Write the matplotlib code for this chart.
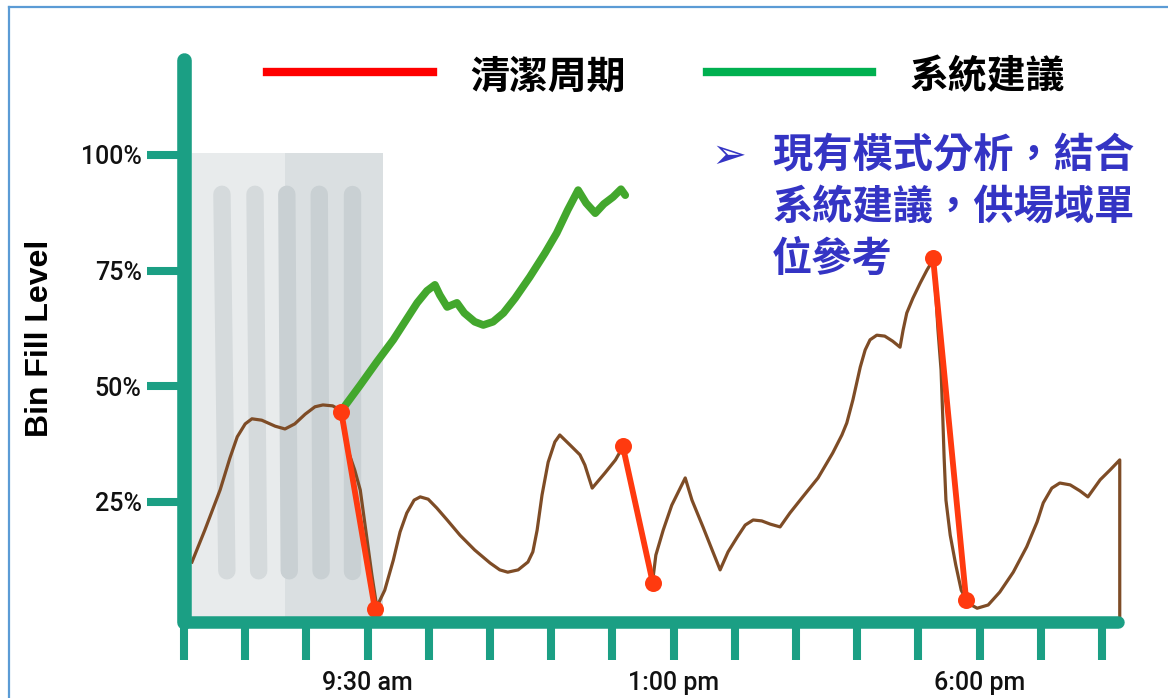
import matplotlib
matplotlib.use("Agg")
import matplotlib.pyplot as plt
from matplotlib.lines import Line2D

# ---------------- data ----------------
fill_x = [0.13, 0.34, 0.59, 0.75, 0.87, 1.00, 1.11, 1.27, 1.49, 1.65, 1.81, 1.98, 2.14, 2.27,
          2.43, 2.55, 2.61, 2.66, 2.79, 2.88, 2.97, 3.07, 3.15, 3.28, 3.42, 3.53, 3.64, 3.76,
          3.86, 3.99, 4.13, 4.30, 4.51, 4.75, 5.00, 5.16, 5.29, 5.46, 5.62, 5.70, 5.77, 5.85,
          5.95, 6.06, 6.14, 6.31, 6.47, 6.55, 6.67, 6.88, 7.05, 7.17, 7.66, 7.71, 7.83, 7.97,
          8.19, 8.30, 8.48, 8.63, 8.76, 8.89, 9.04, 9.17, 9.30, 9.44, 9.58, 9.74, 9.90, 10.11,
          10.36, 10.60, 10.75, 10.83, 10.93, 11.05, 11.13, 11.21, 11.32, 11.45, 11.58, 11.70,
          11.75, 11.81, 11.91, 12.03, 12.14, 12.24, 12.29, 12.32, 12.37, 12.40, 12.42, 12.45,
          12.52, 12.61, 12.70, 12.81, 12.96, 13.14, 13.33, 13.55, 13.77, 13.94, 14.04, 14.18,
          14.31, 14.48, 14.64, 14.77, 14.97, 15.13, 15.29, 15.29]
fill_y = [11.9, 18.8, 27.5, 34.4, 39.0, 41.8, 42.9, 42.6, 41.3, 40.7, 41.8, 43.9, 45.5, 45.9,
          45.7, 44.8, 40.5, 36.8, 31.8, 27.5, 18.8, 9.1, 2.2, 5.8, 12.3, 18.4, 22.5, 25.3,
          26.0, 25.5, 23.6, 21.0, 17.7, 14.5, 11.7, 10.2, 9.7, 10.2, 11.9, 14.1, 18.8, 26.4,
          33.5, 37.9, 39.4, 37.2, 35.1, 32.9, 27.9, 31.2, 34.0, 36.8, 8.0, 13.4, 18.8, 24.2,
          30.1, 25.3, 19.5, 14.5, 10.2, 14.1, 17.3, 19.9, 21.0, 20.8, 20.1, 19.5, 22.5, 26.0,
          30.1, 35.5, 39.4, 42.0, 47.0, 54.1, 57.8, 60.0, 61.0, 60.8, 59.7, 58.4,
          62.1, 65.8, 69.0, 72.3, 75.1, 77.3, 68.6, 62.1, 53.5, 42.6, 34.6, 25.3,
          17.7, 11.3, 5.8, 3.0, 1.9, 2.6, 5.4, 9.7, 15.2, 20.6, 24.7, 27.9,
          29.0, 28.6, 27.3, 26.0, 29.7, 31.8, 34.0, 0.0]

suggest_x = [2.58, 2.88, 3.15, 3.42, 3.61, 3.81, 3.97, 4.10, 4.18, 4.30, 4.37, 4.46, 4.58, 4.75,
             4.89, 5.05, 5.22, 5.41, 5.65, 5.90, 6.09, 6.27, 6.44, 6.57, 6.72, 6.86, 7.01, 7.14, 7.21]
suggest_y = [44.8, 50.2, 55.2, 60.0, 63.9, 68.0, 70.6, 71.9, 69.7, 67.1, 67.5, 68.0, 65.8, 63.9,
             63.2, 63.9, 65.8, 69.0, 73.6, 78.8, 83.1, 88.1, 92.4, 89.6, 87.4, 89.4, 90.9, 92.6, 91.3]

clean_start_x = [2.57, 7.17, 12.24]
clean_start_y = [44.4, 37.0, 77.7]
clean_end_x = [3.12, 7.66, 12.78]
clean_end_y = [1.7, 7.4, 3.7]

y_ticks = [25, 50, 75, 100]
y_tick_labels = ["25%", "50%", "75%", "100%"]
x_ticks = list(range(16))
x_tick_labels = {3: "9:30 am", 8: "1:00 pm", 13: "6:00 pm"}

legend_labels = ["清潔周期", "系統建議"]
note_lines = ["現有模式分析，結合", "系統建議，供場域單", "位參考"]
y_label = "Bin Fill Level"

# shaded bin illustration (data units)
bin_left, bin_split, bin_right, bin_top = 0.13, 1.65, 3.25, 100.4
stripe_top_x = [0.62, 1.16, 1.68, 2.21, 2.75]
stripe_bot_x = [0.70, 1.22, 1.72, 2.24, 2.75]
stripe_top_y, stripe_bot_y = 91.5, 10.0

# ---------------- style ----------------
TEAL = "#1b9f84"
BROWN = "#7e4c26"
RED = "#ff3a0f"
GREEN = "#43a72d"
BLUE = "#3434c4"

W, H = 1168, 698
fig = plt.figure(figsize=(W / 100, H / 100), dpi=100)
fig.patch.set_facecolor("white")

# axes geometry in pixels
L, B, R, T = 184, 622, 1140, 40
ax = fig.add_axes([L / W, (H - B) / H, (R - L) / W, (B - T) / H])
ax.set_xlim(0, (R - L) / 61.2)
ax.set_ylim((617 - B) / 4.62, (617 - T) / 4.62)
for s in ax.spines.values():
    s.set_visible(False)
ax.patch.set_alpha(0)

# ticks
ax.set_yticks(y_ticks)
ax.set_yticklabels(y_tick_labels)
ax.set_xticks(x_ticks)
ax.set_xticklabels([x_tick_labels.get(i, "") for i in x_ticks])
ax.tick_params(axis="y", length=27, width=5.8, color=TEAL, pad=3.5,
               labelsize=18, labelcolor="#111111")
ax.tick_params(axis="x", length=27, width=5.8, color=TEAL, pad=8,
               labelsize=18, labelcolor="#111111")
for lab in ax.get_xticklabels() + ax.get_yticklabels():
    lab.set_fontfamily("Roboto")
    lab.set_fontweight(500)

ymin = ax.get_ylim()[0]
# shaded bin
ax.fill_between([bin_left, bin_split], ymin, bin_top, color="#e8ebec", lw=0, zorder=1)
ax.fill_between([bin_split, bin_right], ymin, bin_top, color="#dadfe1", lw=0, zorder=1)
for tx, bx in zip(stripe_top_x, stripe_bot_x):
    c = "#d5dadc" if tx < bin_split else "#c9d0d3"
    ax.plot([tx, bx], [stripe_top_y, stripe_bot_y], color=c, lw=12.5,
            solid_capstyle="round", zorder=2)

# brown fill level
ax.plot(fill_x, fill_y, color=BROWN, lw=2.3, zorder=4, solid_joinstyle="round")
# green suggestion
ax.plot(suggest_x, suggest_y, color=GREEN, lw=5.5, zorder=5,
        solid_capstyle="round", solid_joinstyle="round")
# red cleaning cycles
for x0, y0, x1, y1 in zip(clean_start_x, clean_start_y, clean_end_x, clean_end_y):
    ax.plot([x0, x1], [y0, y1], color=RED, lw=4.2, zorder=6)
ax.scatter(clean_start_x + clean_end_x, clean_start_y + clean_end_y, s=150,
           color=RED, zorder=7, linewidths=0)

# axis lines
ax.plot([0, 0], [ymin, (617 - 60) / 4.62], color=TEAL, lw=10.5,
        solid_capstyle="round", clip_on=False, zorder=8)
ax.plot([0, (1118 - L) / 61.2], [ymin, ymin], color=TEAL, lw=9,
        solid_capstyle="round", clip_on=False, zorder=8)

# legend (manual, top)
cjk = ["Noto Sans CJK TC", "DejaVu Sans"]
fig.add_artist(Line2D([267 / W, 433 / W], [1 - 72 / H, 1 - 72 / H], color="#ff0000", lw=6))
fig.add_artist(Line2D([707 / W, 872 / W], [1 - 72 / H, 1 - 72 / H], color="#00b050", lw=6))
fig.text(470 / W, 1 - 77 / H, legend_labels[0], fontsize=28, fontweight="bold",
         family=cjk, va="center", ha="left", color="black")
fig.text(910 / W, 1 - 77 / H, legend_labels[1], fontsize=28, fontweight="bold",
         family=cjk, va="center", ha="left", color="black")

# note
fig.text(711 / W, 1 - 156 / H, "➢", fontsize=30, family=["DejaVu Sans"], color=BLUE,
         va="center", ha="left")
for i, line in enumerate(note_lines):
    fig.text(772 / W, 1 - (155 + 52 * i) / H, line, fontsize=29, fontweight="bold",
             family=cjk, color=BLUE, va="center", ha="left")

# y label
fig.text(40 / W, 1 - 338 / H, y_label, rotation=90, fontsize=23, fontweight="bold",
         family="Liberation Sans", va="center", ha="center", color="black")

# frame border
fig.add_artist(Line2D([9 / W, 9 / W], [0, 1 - 7 / H], color="#5b9bd5", lw=1.6))
fig.add_artist(Line2D([9 / W, 1], [1 - 7 / H, 1 - 7 / H], color="#5b9bd5", lw=1.6))

fig.savefig("out.png", dpi=100, facecolor="white")
